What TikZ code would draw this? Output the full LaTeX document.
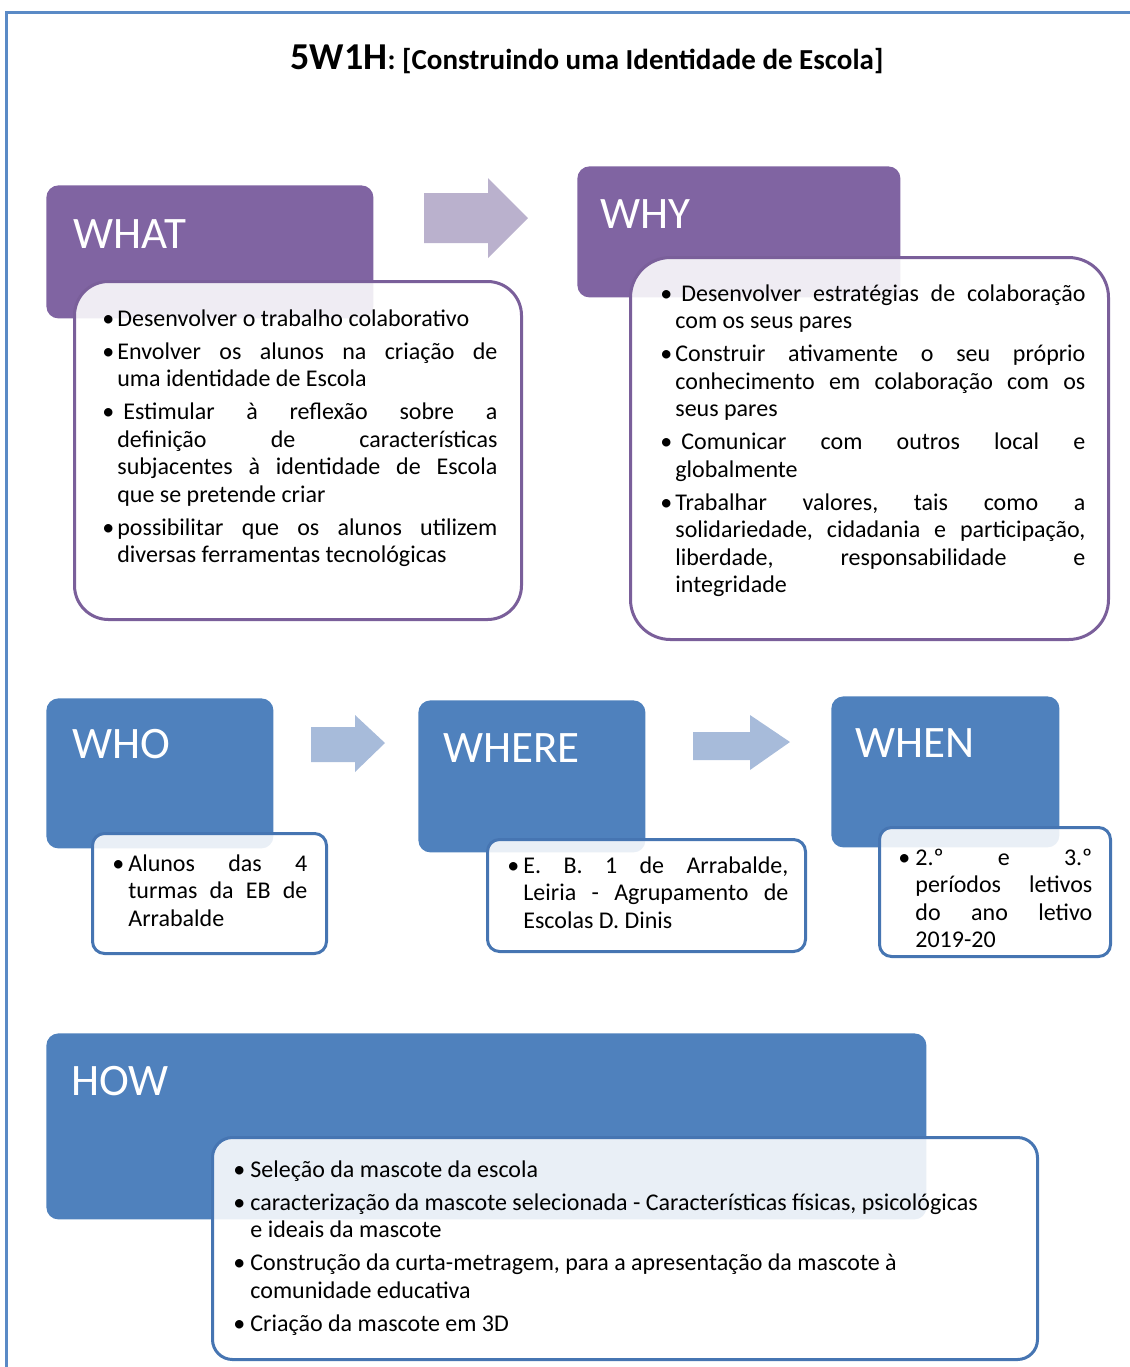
\documentclass[tikz,border=0pt]{standalone}
\usepackage{fontspec}
\setmainfont{Carlito}
\usetikzlibrary{positioning}

\definecolor{whatpurple}{HTML}{8064A2}
\definecolor{purpleedge}{HTML}{7A5F9A}
\definecolor{purplearrow}{HTML}{BAB1CD}
\definecolor{whoblue}{HTML}{4F81BD}
\definecolor{blueedge}{HTML}{4675B2}
\definecolor{bluearrow}{HTML}{A7BBDA}
\definecolor{framecol}{HTML}{5A8AC6}

\hyphenpenalty=10000
\exhyphenpenalty=10000
\tolerance=10000
\hbadness=10000
\frenchspacing

% bullet line with hanging indent
\newcommand\bitem[1][7.5pt]{\par\hangindent=#1\hangafter=1\noindent\makebox[#1][l]{\textbullet}}
\newcommand\cardpar[2]{\parbox[t]{#1}{\setlength\parskip{2.75pt}#2}}

\begin{document}
\begin{tikzpicture}[x=0.5pt, y=-0.5pt,
		hdr/.style={rectangle, rounded corners=6pt, anchor=north west, inner sep=0pt},
		hdrtext/.style={anchor=base west, inner sep=0pt, text=white, font=\fontsize{22.5}{27}\selectfont},
		card/.style={rectangle, anchor=north west, inner sep=0pt, fill=white, fill opacity=.88, line width=1.5pt},
		cardtext/.style={anchor=base west, inner sep=0pt, font=\fontsize{12}{13.75}\selectfont}]
		\useasboundingbox (0,0) rectangle (1130,1367);
		\draw[framecol, line width=1.5pt] (1130,12) -- (6,12) -- (6,1367);

		\node[anchor=base, inner sep=0pt] (title) at (587,69)
			{\bfseries\fontsize{19}{22}\selectfont 5W1H\fontsize{14.5}{17}\selectfont: [Construindo uma Identidade de Escola]};

		% headers
		\node[hdr, fill=whatpurple, minimum width=163.5pt, minimum height=66.5pt] (whatbox) at (46,185) {};
		\node[hdr, fill=whatpurple, minimum width=161.5pt, minimum height=65.5pt] (whybox) at (577,166) {};
		\node[hdr, fill=whoblue, minimum width=113.5pt, minimum height=75pt] (whobox) at (46,698) {};
		\node[hdr, fill=whoblue, minimum width=113.5pt, minimum height=76pt] (wherebox) at (418,700) {};
		\node[hdr, fill=whoblue, minimum width=114pt, minimum height=75.5pt] (whenbox) at (831,696) {};
		\node[hdr, fill=whoblue, minimum width=440pt, minimum height=93pt] (howbox) at (46,1033) {};

		\node[hdrtext] (whatlabel) at (73,248) {WHAT};
		\node[hdrtext] (whylabel) at (600,228) {WHY};
		\node[hdrtext] (wholabel) at (72,758) {WHO};
		\node[hdrtext] (wherelabel) at (443,762) {WHERE};
		\node[hdrtext] (whenlabel) at (855,757) {WHEN};
		\node[hdrtext] (howlabel) at (71,1095) {HOW};

		% arrows
		\fill[purplearrow] (424,193) -- (488,193) -- (488,178) -- (528,218) -- (488,258) -- (488,243) -- (424,243) -- cycle;
		\fill[bluearrow] (311,727) -- (355,727) -- (355,715) -- (385,743) -- (355,772) -- (355,762) -- (311,762) -- cycle;
		\fill[bluearrow] (693,732) -- (750,732) -- (750,715) -- (790,742) -- (750,770) -- (750,760) -- (693,760) -- cycle;

		% cards
		\node[card, draw=purpleedge, rounded corners=17pt, minimum width=223.5pt, minimum height=169pt] (whatcard) at (73,280) {};
		\node[card, draw=purpleedge, rounded corners=20pt, minimum width=239pt, minimum height=191pt] (whycard) at (629,256) {};
		\node[card, draw=blueedge, rounded corners=6pt, minimum width=117pt, minimum height=60pt] (whocard) at (91,832) {};
		\node[card, draw=blueedge, rounded corners=6pt, minimum width=159pt, minimum height=56pt] (wherecard) at (486,838) {};
		\node[card, draw=blueedge, rounded corners=6pt, minimum width=115.5pt, minimum height=64.5pt] (whencard) at (878,826) {};
		\node[card, draw=blueedge, rounded corners=10pt, minimum width=412.5pt, minimum height=111pt] (howcard) at (211,1136) {};

		\node[cardtext] (whatlist) at (102,326) {\cardpar{197.5pt}{%
			\bitem Desenvolver o trabalho colaborativo
			\bitem Envolver os alunos na criação de\linebreak uma identidade de Escola
			\bitem\hspace{3pt}Estimular à reflexão sobre a\linebreak definição de características\linebreak subjacentes à identidade de Escola\linebreak que se pretende criar
			\bitem possibilitar que os alunos utilizem\linebreak diversas ferramentas tecnológicas}};
		\node[cardtext] (whylist) at (660,301) {\cardpar{212.5pt}{%
			\bitem\hspace{3pt}Desenvolver estratégias de colaboração\linebreak com os seus pares
			\bitem Construir ativamente o seu próprio\linebreak conhecimento em colaboração com os\linebreak seus pares
			\bitem\hspace{3pt}Comunicar com outros local e\linebreak globalmente
			\bitem Trabalhar valores, tais como a\linebreak solidariedade, cidadania e participação,\linebreak liberdade, responsabilidade e\linebreak integridade}};
		\node[cardtext] (wholist) at (112,871) {\cardpar{97.5pt}{%
			\bitem[8pt]Alunos das 4\linebreak turmas da EB de\linebreak Arrabalde}};
		\node[cardtext] (wherelist) at (507,873) {\cardpar{140.5pt}{%
			\bitem[8pt]E. B. 1 de Arrabalde,\linebreak Leiria - Agrupamento de\linebreak Escolas D. Dinis}};
		\node[cardtext] (whenlist) at (898,865) {\cardpar{97pt}{%
			\bitem[8.5pt]2.º e 3.º\linebreak períodos letivos\linebreak do ano letivo\linebreak 2019-20}};
		\node[cardtext] (howlist) at (233,1177) {\cardpar{392.5pt}{\raggedright\setlength\parskip{2.75pt}%
			\bitem[8.5pt]Seleção da mascote da escola
			\bitem[8.5pt]caracterização da mascote selecionada - Características físicas, psicológicas\newline e ideais da mascote
			\bitem[8.5pt]Construção da curta-metragem, para a apresentação da mascote à\newline comunidade educativa
			\bitem[8.5pt]Criação da mascote em 3D}};
\end{tikzpicture}
\end{document}
